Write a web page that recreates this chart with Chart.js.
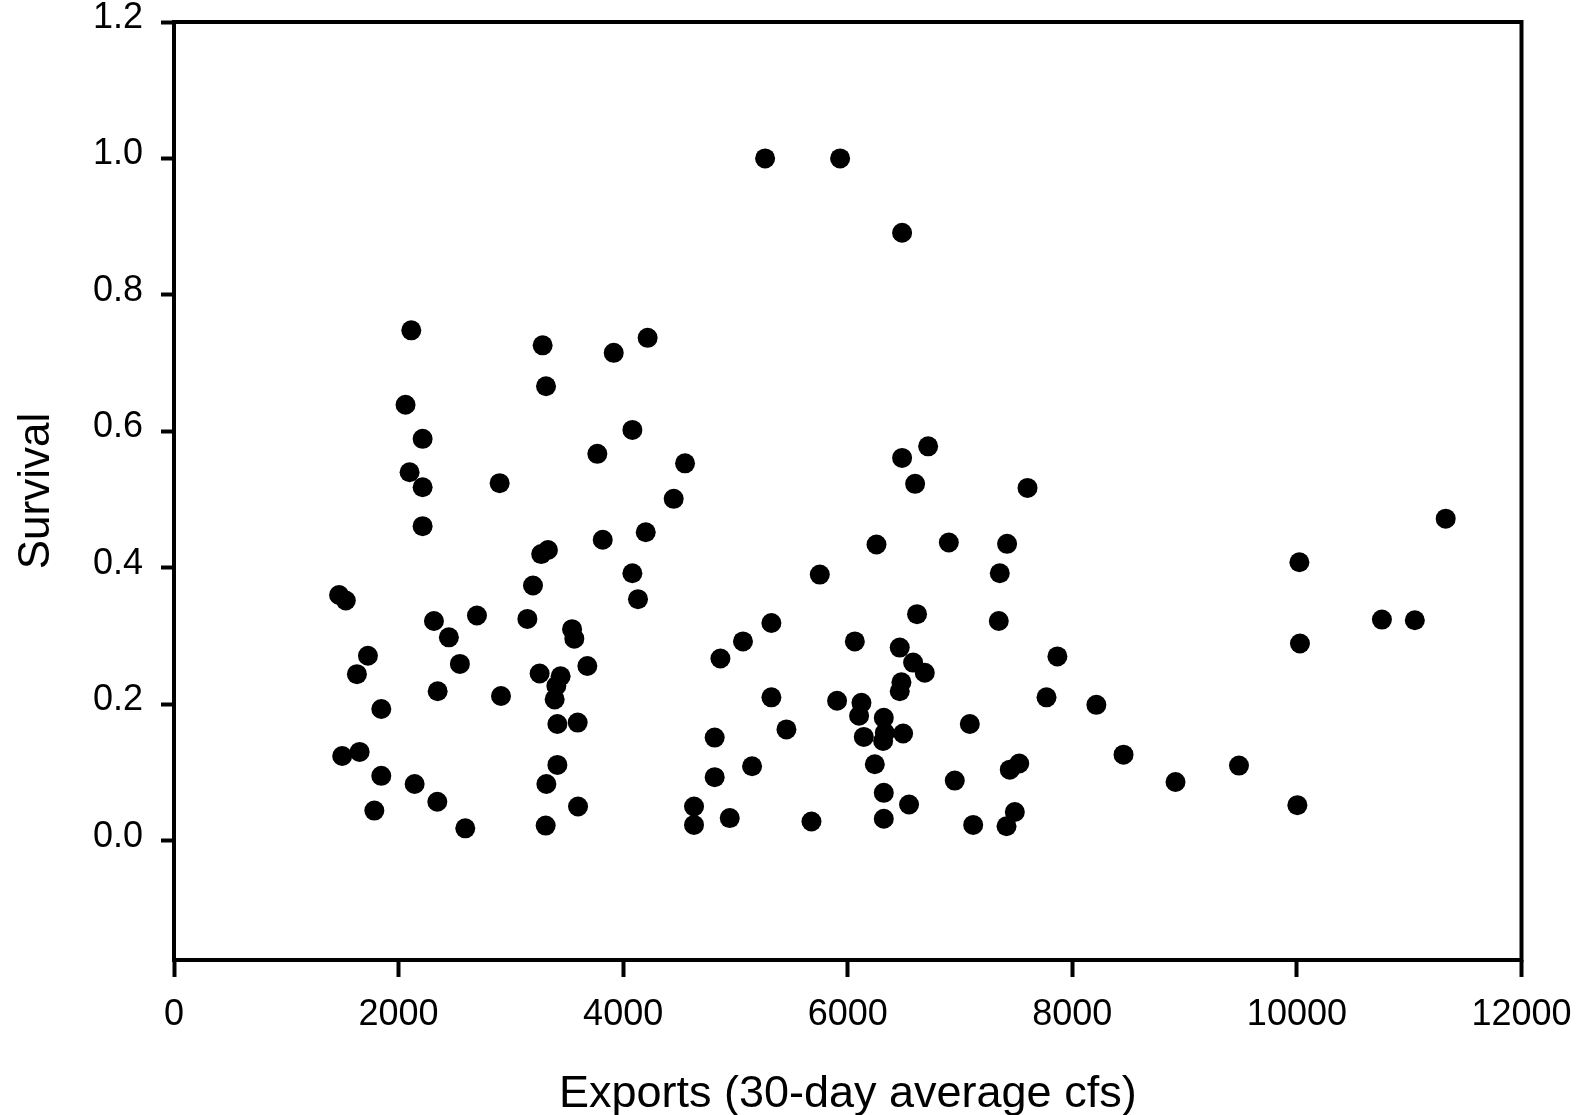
<!DOCTYPE html>
<html>
<head>
<meta charset="utf-8">
<script src="https://cdn.jsdelivr.net/npm/chart.js@4.4.1/dist/chart.umd.min.js"></script>
<style>
  html, body { margin: 0; padding: 0; background: #fff; }
  #wrap { width: 1582px; height: 1115px; }
</style>
</head>
<body>
<div id="wrap"><canvas id="c" width="1582" height="1115"></canvas></div>
<script>
// Exports (30-day average cfs)
const exportsCfs = [
  1470, 1530, 1498, 1653, 1629, 1727, 1846, 1846, 1784,
  2062, 2113, 2098, 2214, 2214, 2214, 2143,
  2315, 2448, 2348, 2345, 2546, 2594, 2698,
  2900, 2912, 3147, 3197, 3283, 3313, 3270, 3330,
  3256, 3443, 3405, 3390, 3316, 3310, 3414, 3414,
  3545, 3565, 3595, 3598, 3681,
  3770, 3818, 3916, 4082, 4082, 4132, 4201, 4218,
  4450, 4551, 4631, 4631,
  4815, 4815, 4866, 4949, 5067, 5148,
  5264, 5320, 5320, 5454, 5677, 5751,
  5932, 5905, 6063, 6122, 6101, 6143, 6241, 6256,
  6321, 6330, 6315, 6321, 6321,
  6484, 6484, 6463, 6478, 6463, 6493, 6546,
  6600, 6617, 6582, 6686, 6716,
  6900, 6953, 7087, 7117, 7354, 7345, 7419,
  7443, 7527, 7488, 7414, 7601, 7770, 7867,
  8214, 8456, 8919, 9484,
  10022, 10027, 10004, 10757, 11050, 11325
];
// Survival
const survival = [
  0.360, 0.352, 0.124, 0.130, 0.244, 0.271, 0.193, 0.095, 0.044,
  0.639, 0.748, 0.540, 0.518, 0.589, 0.461, 0.083,
  0.322, 0.298, 0.219, 0.057, 0.259, 0.018, 0.330,
  0.524, 0.212, 0.325, 0.374, 0.726, 0.666, 0.420, 0.426,
  0.245, 0.241, 0.227, 0.207, 0.083, 0.022, 0.171, 0.111,
  0.310, 0.296, 0.173, 0.050, 0.256,
  0.567, 0.441, 0.715, 0.602, 0.392, 0.354, 0.452, 0.737,
  0.501, 0.553, 0.050, 0.023,
  0.151, 0.093, 0.267, 0.033, 0.292, 0.109,
  1.000, 0.319, 0.210, 0.163, 0.028, 0.390,
  1.000, 0.205, 0.292, 0.202, 0.183, 0.152, 0.112, 0.434,
  0.180, 0.158, 0.146, 0.070, 0.032,
  0.891, 0.561, 0.283, 0.232, 0.219, 0.157, 0.053,
  0.523, 0.332, 0.261, 0.246, 0.578,
  0.437, 0.088, 0.171, 0.023, 0.392, 0.322, 0.435,
  0.104, 0.113, 0.042, 0.021, 0.517, 0.210, 0.270,
  0.199, 0.126, 0.086, 0.110,
  0.408, 0.289, 0.052, 0.324, 0.323, 0.472
];
const xTicks = [0, 2000, 4000, 6000, 8000, 10000, 12000];
const yTicks = [0.0, 0.2, 0.4, 0.6, 0.8, 1.0, 1.2];
const xTitle = 'Exports (30-day average cfs)';
const yTitle = 'Survival';

const points = exportsCfs.map((x, i) => ({ x: x, y: survival[i] }));
const FONT = "'Liberation Sans', Arial, sans-serif";

function noPad(s) {
  s.paddingTop = 0; s.paddingBottom = 0; s.paddingLeft = 0; s.paddingRight = 0;
}

const framePlugin = {
  id: 'frame',
  beforeDatasetsDraw(chart) {
    const a = chart.chartArea, ctx = chart.ctx;
    ctx.save();
    ctx.strokeStyle = '#000';
    ctx.lineWidth = 4;
    ctx.strokeRect(a.left, a.top, a.right - a.left, a.bottom - a.top);
    ctx.restore();
  }
};

new Chart(document.getElementById('c'), {
  type: 'scatter',
  data: {
    datasets: [{
      data: points,
      backgroundColor: '#000',
      borderColor: '#000',
      borderWidth: 0,
      pointRadius: 10,
      pointHoverRadius: 10
    }]
  },
  options: {
    responsive: false,
    animation: false,
    events: [],
    layout: { padding: { left: 0, top: 22, right: 60.5, bottom: 0 } },
    plugins: { legend: { display: false }, tooltip: { enabled: false } },
    scales: {
      x: {
        type: 'linear',
        min: xTicks[0],
        max: xTicks[xTicks.length - 1],
        afterBuildTicks: s => { s.ticks = xTicks.map(v => ({ value: v })); },
        afterFit: s => { s.height = 155; noPad(s); },
        border: { display: false },
        grid: { drawOnChartArea: false, drawTicks: true, tickLength: 17, tickWidth: 4, tickColor: '#000' },
        ticks: {
          color: '#000', padding: 16, maxRotation: 0, autoSkip: false,
          font: { family: FONT, size: 36 },
          callback: v => String(v)
        },
        title: {
          display: true, text: xTitle, color: '#000',
          font: { family: FONT, size: 45, lineHeight: 0.9 },
          padding: { top: 0, bottom: 0 }
        }
      },
      y: {
        type: 'linear',
        min: -0.175,
        max: 1.2,
        afterBuildTicks: s => { s.ticks = yTicks.map(v => ({ value: v })); },
        afterFit: s => { s.width = 174; noPad(s); },
        border: { display: false },
        grid: { drawOnChartArea: false, drawTicks: true, tickLength: 13, tickWidth: 4, tickColor: '#000' },
        ticks: {
          color: '#000', padding: 18, labelOffset: -4, autoSkip: false,
          font: { family: FONT, size: 36 },
          callback: v => Number(v).toFixed(1)
        },
        title: {
          display: true, text: yTitle, color: '#000',
          font: { family: FONT, size: 44, lineHeight: 1.2 },
          padding: { top: 10, bottom: 0 }
        }
      }
    }
  },
  plugins: [framePlugin]
});
</script>
</body>
</html>
